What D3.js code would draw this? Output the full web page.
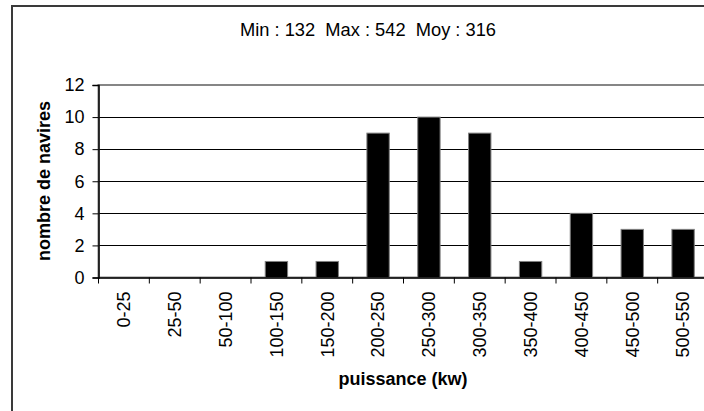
<!DOCTYPE html>
<html><head><meta charset="utf-8">
<script src="https://cdn.jsdelivr.net/npm/d3@7"></script>
<style>
html,body{margin:0;padding:0;background:#fff;}
svg{display:block;font-family:"Liberation Sans",Arial,sans-serif;}
</style></head>
<body>
<svg id="c" width="704" height="411"></svg>
<script>
const categories = ["0-25","25-50","50-100","100-150","150-200","200-250","250-300","300-350","350-400","400-450","450-500","500-550"];
const counts = [0,0,0,1,1,9,10,9,1,4,3,3];
const yTicks = [0,2,4,6,8,10,12];
const title = "Min : 132  Max : 542  Moy : 316";
const xTitle = "puissance (kw)";
const yTitle = "nombre de navires";

(function(){
const svg = d3.select("#c");
// outer chart border
svg.append("rect").attr("x",12).attr("y",6).attr("width",740).attr("height",460)
  .attr("fill","#fff").attr("stroke","#3a3a3a").attr("stroke-width",2);

const pL = 98.5, pR = 708.5, pT = 85, pB = 277.5;
const x = d3.scaleBand().domain(categories).range([pL,pR]).padding(0);
const y = d3.scaleLinear().domain([0,12]).range([pB,pT]);

// gridlines
svg.append("g").selectAll("line").data(yTicks.filter(d=>d>0 && d<12)).join("line")
  .attr("x1",pL).attr("x2",pR+2).attr("y1",d=>Math.round(y(d))+0.5).attr("y2",d=>Math.round(y(d))+0.5)
  .attr("stroke","#000").attr("stroke-width",1);
// plot area border (gray)
svg.append("rect").attr("x",pL).attr("y",pT).attr("width",pR-pL).attr("height",pB-pT)
  .attr("fill","none").attr("stroke","#868686").attr("stroke-width",2);

// bars
const bw = x.bandwidth()*0.44;
svg.append("g").selectAll("rect").data(categories.map((c,i)=>({c,v:counts[i]})).filter(d=>d.v>0)).join("rect")
  .attr("x",d=>x(d.c)+x.bandwidth()/2-bw/2)
  .attr("width",bw)
  .attr("y",d=>y(d.v))
  .attr("height",d=>y(0)-y(d.v))
  .attr("fill","#000").attr("stroke","#808080").attr("stroke-width",1);

// y axis
const ya = d3.axisLeft(y).tickValues(yTicks).tickSize(6).tickPadding(8).tickFormat(d3.format("d"));
const gy = svg.append("g").attr("transform",`translate(${pL},0)`).call(ya);
gy.select(".domain").attr("stroke","#000").attr("stroke-width",1.5);
gy.selectAll(".tick line").attr("stroke","#000");
gy.selectAll("text").attr("font-size",18).attr("fill","#000").attr("font-family","Liberation Sans, Arial, sans-serif");

// x axis
const xa = d3.axisBottom(x).tickSize(0).tickFormat(d=>d);
const gx = svg.append("g").attr("transform",`translate(0,${pB})`).call(xa);
gx.select(".domain").attr("stroke","#000").attr("stroke-width",1.5);
gx.selectAll(".tick text").attr("font-size",18).attr("fill","#000")
  .attr("font-family","Liberation Sans, Arial, sans-serif")
  .attr("text-anchor","end").attr("transform","rotate(-90)")
  .attr("x",-14).attr("y",0).attr("dy","0.35em");
// tick marks at band boundaries
svg.append("g").selectAll("line").data(categories).join("line")
  .attr("x1",d=>x(d)).attr("x2",d=>x(d))
  .attr("y1",pB).attr("y2",pB+6).attr("stroke","#000").attr("stroke-width",1);

// titles
svg.append("text").attr("x",368).attr("y",36).attr("text-anchor","middle")
  .style("white-space","pre").attr("xml:space","preserve")
  .attr("font-size",18.3).attr("fill","#000").text(title);
svg.append("text").attr("x",403).attr("y",385).attr("text-anchor","middle")
  .attr("font-size",18).attr("font-weight","bold").attr("fill","#000").text(xTitle);
svg.append("text").attr("transform","translate(50,181) rotate(-90)").attr("text-anchor","middle")
  .attr("font-size",18).attr("font-weight","bold").attr("fill","#000").text(yTitle);
})();
</script>
</body></html>
